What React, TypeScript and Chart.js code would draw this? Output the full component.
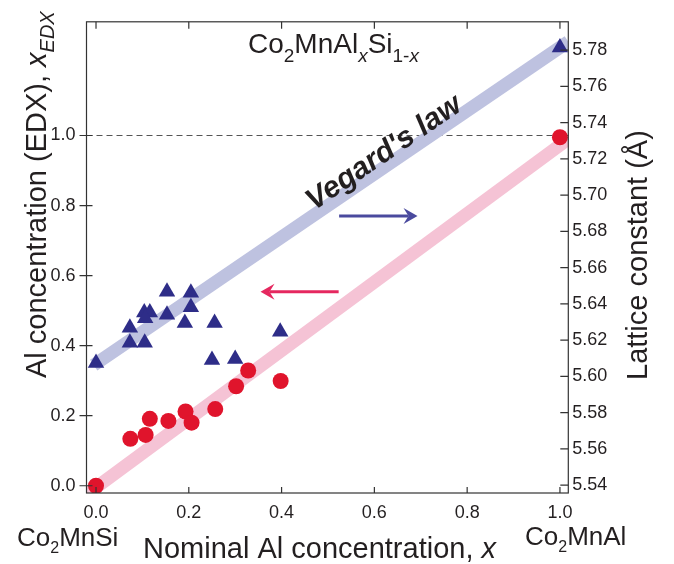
import React, { useEffect, useRef } from "react";
import { Chart, registerables } from "chart.js";

Chart.register(...registerables);

// ---- data ----
const triNominal = [0, 0.073, 0.073, 0.105, 0.104, 0.116, 0.106, 0.153, 0.153, 0.1915, 0.2045, 0.2045, 0.2556, 0.25, 0.3, 0.397, 1.0];
const triLattice = [5.6074, 5.6268, 5.6186, 5.6186, 5.6353, 5.6353, 5.6321, 5.6467, 5.634, 5.6295, 5.6462, 5.6382, 5.6295, 5.609, 5.6096, 5.6247, 5.7814];

const dotNominal = [0, 0.074, 0.107, 0.116, 0.156, 0.193, 0.206, 0.257, 0.302, 0.328, 0.398, 1.0];
const dotEdx = [0, 0.134, 0.145, 0.191, 0.185, 0.212, 0.18, 0.219, 0.284, 0.329, 0.299, 0.995];

const vegardLatticeX = [-0.005, 1.018];
const vegardLatticeY = [5.6062, 5.7846];
const vegardEdxX = [-0.0205, 1.018];
const vegardEdxY = [-0.025, 0.99];

const xTicks = [0, 0.2, 0.4, 0.6, 0.8, 1.0];
const yTicks = [0, 0.2, 0.4, 0.6, 0.8, 1.0];
const y2Ticks = [5.54, 5.56, 5.58, 5.6, 5.62, 5.64, 5.66, 5.68, 5.7, 5.72, 5.74, 5.76, 5.78];

const FAMILY = "'Liberation Sans', Arial, Helvetica, sans-serif";
const INK = "#231f20";
const NAVY = "#2e2d88";
const RED = "#e0142c";
const BAND_BLUE = "#bec2e0";
const BAND_PINK = "#f5c3d5";

type Part = { t: string; size: number; italic?: boolean; bold?: boolean; dy?: number };

function fontOf(p: Part) {
  return `${p.bold ? "bold " : ""}${p.italic ? "italic " : ""}${p.size}px ${FAMILY}`;
}

function drawRich(ctx: CanvasRenderingContext2D, parts: Part[], x: number, y: number, rot = 0, align = "left") {
  ctx.save();
  ctx.translate(x, y);
  ctx.rotate(rot);
  ctx.textBaseline = "alphabetic";
  ctx.textAlign = "left";
  ctx.fillStyle = INK;
  let w = 0;
  for (const p of parts) {
    ctx.font = fontOf(p);
    w += ctx.measureText(p.t).width;
  }
  let cx = align === "center" ? -w / 2 : 0;
  for (const p of parts) {
    ctx.font = fontOf(p);
    ctx.fillText(p.t, cx, p.dy || 0);
    cx += ctx.measureText(p.t).width;
  }
  ctx.restore();
}

function arrow(ctx: CanvasRenderingContext2D, x1: number, y: number, x2: number, color: string) {
  const dir = Math.sign(x2 - x1);
  const headLen = 14;
  const halfW = 8;
  const notch = 5;
  ctx.save();
  ctx.strokeStyle = color;
  ctx.fillStyle = color;
  ctx.lineWidth = 3;
  ctx.beginPath();
  ctx.moveTo(x1, y);
  ctx.lineTo(x2 - dir * (headLen - notch), y);
  ctx.stroke();
  ctx.beginPath();
  ctx.moveTo(x2, y);
  ctx.lineTo(x2 - dir * headLen, y - halfW);
  ctx.lineTo(x2 - dir * (headLen - notch), y);
  ctx.lineTo(x2 - dir * headLen, y + halfW);
  ctx.closePath();
  ctx.fill();
  ctx.restore();
}

const decoPlugin = {
  id: "deco",
  beforeDatasetsDraw(chart: any) {
    const { ctx, chartArea: a, scales } = chart;
    const y1 = Math.round(scales.y.getPixelForValue(1.0)) + 0.5;
    ctx.save();
    ctx.strokeStyle = "#555";
    ctx.lineWidth = 1;
    ctx.setLineDash([6, 4]);
    ctx.beginPath();
    ctx.moveTo(a.left, y1);
    ctx.lineTo(a.right, y1);
    ctx.stroke();
    ctx.restore();
  },
  afterDatasetsDraw(chart: any) {
    const { ctx, chartArea: a, scales } = chart;
    const sx = scales.x, sy = scales.y, sy2 = scales.y2;
    ctx.save();
    ctx.strokeStyle = "#333";
    ctx.lineWidth = 1.2;
    ctx.strokeRect(a.left, a.top, a.right - a.left, a.bottom - a.top);
    ctx.beginPath();
    for (const v of xTicks) {
      const px = sx.getPixelForValue(v);
      ctx.moveTo(px, a.bottom);
      ctx.lineTo(px, a.bottom - 6);
      ctx.moveTo(px, a.top);
      ctx.lineTo(px, a.top + 7);
    }
    for (const v of yTicks) {
      const py = sy.getPixelForValue(v);
      ctx.moveTo(a.left - 7, py);
      ctx.lineTo(a.left + 6, py);
    }
    for (const v of y2Ticks) {
      const py = sy2.getPixelForValue(v);
      ctx.moveTo(a.right - 8, py);
      ctx.lineTo(a.right, py);
    }
    ctx.stroke();
    ctx.restore();

    // arrows
    arrow(ctx, sx.getPixelForValue(0.524), sy.getPixelForValue(0.77), sx.getPixelForValue(0.693), "#4a4a9e");
    arrow(ctx, sx.getPixelForValue(0.523), sy.getPixelForValue(0.554), sx.getPixelForValue(0.3546), "#e5285f");

    // Vegard's law label along the blue band
    const p0x = sx.getPixelForValue(vegardLatticeX[0]);
    const p0y = sy2.getPixelForValue(vegardLatticeY[0]);
    const p1x = sx.getPixelForValue(vegardLatticeX[1]);
    const p1y = sy2.getPixelForValue(vegardLatticeY[1]);
    const ang = Math.atan2(p1y - p0y, p1x - p0x);
    drawRich(ctx, [{ t: "Vegard's law", size: 30, bold: true, italic: true }], 314, 211, ang);

    // title
    drawRich(ctx, [
      { t: "Co", size: 28 },
      { t: "2", size: 19, dy: 9 },
      { t: "MnAl", size: 28 },
      { t: "x", size: 19, italic: true, dy: 9 },
      { t: "Si", size: 28 },
      { t: "1-", size: 19, dy: 9 },
      { t: "x", size: 19, italic: true, dy: 9 },
    ], 248, 53);

    // axis titles
    drawRich(ctx, [
      { t: "Al concentration (EDX), ", size: 29 },
      { t: "x", size: 29, italic: true },
      { t: "EDX", size: 20, italic: true, dy: 8 },
    ], 46, 378, -Math.PI / 2);
    drawRich(ctx, [{ t: "Lattice constant (Å)", size: 29 }], 647, 380, -Math.PI / 2);
    drawRich(ctx, [
      { t: "Nominal Al concentration, ", size: 29 },
      { t: "x", size: 29, italic: true },
    ], 143, 558);
    drawRich(ctx, [
      { t: "Co", size: 26 },
      { t: "2", size: 16, dy: 7 },
      { t: "MnSi", size: 26 },
    ], 17, 546);
    drawRich(ctx, [
      { t: "Co", size: 26 },
      { t: "2", size: 16, dy: 7 },
      { t: "MnAl", size: 26 },
    ], 525, 545);
  },
};

export default function App() {
  const ref = useRef<HTMLCanvasElement | null>(null);
  useEffect(() => {
    if (!ref.current) return;
    const tickFont = { family: FAMILY, size: 18 };
    const chart = new Chart(ref.current, {
      type: "scatter",
      data: {
        datasets: [
          {
            label: "lattice",
            yAxisID: "y2",
            data: triNominal.map((x, i) => ({ x, y: triLattice[i] })),
            pointStyle: "triangle",
            pointRadius: 9.5,
            backgroundColor: NAVY,
            borderWidth: 0,
            order: 0,
          },
          {
            label: "edx",
            yAxisID: "y",
            data: dotNominal.map((x, i) => ({ x, y: dotEdx[i] })),
            pointStyle: "circle",
            pointRadius: 8,
            backgroundColor: RED,
            borderWidth: 0,
            order: 1,
          },
          {
            label: "vegard lattice",
            yAxisID: "y2",
            data: vegardLatticeX.map((x, i) => ({ x, y: vegardLatticeY[i] })),
            showLine: true,
            pointRadius: 0,
            borderColor: BAND_BLUE,
            borderWidth: 13,
            order: 10,
          },
          {
            label: "vegard edx",
            yAxisID: "y",
            data: vegardEdxX.map((x, i) => ({ x, y: vegardEdxY[i] })),
            showLine: true,
            pointRadius: 0,
            borderColor: BAND_PINK,
            borderWidth: 13,
            order: 11,
          },
        ],
      },
      options: {
        animation: false,
        responsive: false,
        devicePixelRatio: 1,
        layout: { padding: { top: 4, left: 0, right: 0, bottom: 0 } },
        plugins: { legend: { display: false }, tooltip: { enabled: false } },
        scales: {
          x: {
            type: "linear",
            position: "bottom",
            min: -0.0205,
            max: 1.018,
            grid: { display: false, drawTicks: false },
            border: { display: false },
            afterBuildTicks: (s: any) => { s.ticks = xTicks.map((value) => ({ value })); },
            afterFit: (s: any) => { s.height = 71; },
            ticks: { font: tickFont, color: INK, padding: 9, autoSkip: false, maxRotation: 0, callback: (v: any) => Number(v).toFixed(1) },
          },
          y: {
            type: "linear",
            position: "left",
            min: -0.0207,
            max: 1.3246,
            grid: { display: false, drawTicks: false },
            border: { display: false },
            afterBuildTicks: (s: any) => { s.ticks = yTicks.map((value) => ({ value })); },
            afterFit: (s: any) => { s.width = 86.5; },
            ticks: { font: tickFont, color: INK, padding: 11, autoSkip: false, callback: (v: any) => Number(v).toFixed(1) },
          },
          y2: {
            type: "linear",
            position: "right",
            min: 5.5357,
            max: 5.7956,
            grid: { display: false, drawTicks: false },
            border: { display: false },
            afterBuildTicks: (s: any) => { s.ticks = y2Ticks.map((value) => ({ value })); },
            afterFit: (s: any) => { s.width = 105.7; },
            ticks: { font: tickFont, color: INK, padding: 4, autoSkip: false, callback: (v: any) => Number(v).toFixed(2) },
          },
        },
      },
      plugins: [decoPlugin],
    } as any);
    return () => chart.destroy();
  }, []);
  return (
    <div style={{ position: "absolute", left: 0, top: 0, width: 674, height: 564, background: "#fff" }}>
      <canvas ref={ref} width={674} height={564} style={{ display: "block" }} />
    </div>
  );
}
